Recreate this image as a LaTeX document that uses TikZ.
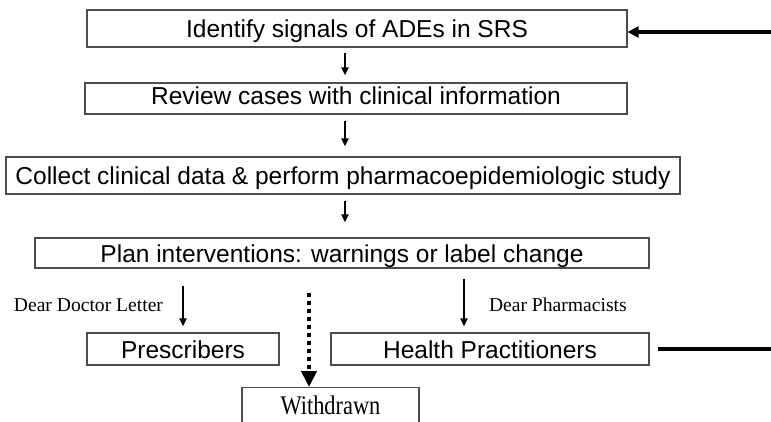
\documentclass[tikz,border=0pt]{standalone}
\usepackage{fontspec}
\setmainfont{Liberation Serif}
\setsansfont{Liberation Sans}
\usetikzlibrary{arrows.meta, positioning}

\begin{document}
\begin{tikzpicture}[x=1pt, y=-1pt,
    stepbox/.style={draw=black!70, line width=1.2pt, inner sep=0pt, text height=18.5pt, text depth=0pt,
      font=\sffamily\fontsize{24.5}{29}\selectfont},
    flow/.style={-{Triangle[length=8pt, width=7pt]}, line width=2pt},
    lbl/.style={inner sep=0pt, font=\rmfamily\fontsize{19.6}{23}\selectfont},
    loopline/.style={line width=3.5pt}]
    \useasboundingbox (0,0) rectangle (771,421);
    \clip (0,0) rectangle (771,421);

    \node[stepbox, minimum width=540pt, minimum height=37pt] (ident) at (357,28.5) {Identify signals of ADEs in SRS};
    \node[stepbox, minimum width=542pt, minimum height=31pt, text height=12pt] (review) at (356,98.5) {Review cases with clinical information};
    \node[stepbox, minimum width=674pt, minimum height=37pt] (collect) at (343,175.5) {Collect clinical data \& perform pharmacoepidemiologic study};
    \node[stepbox, minimum width=614pt, minimum height=30pt] (plan) at (342,253) {Plan interventions: warnings or label change};
    \node[stepbox, minimum width=192pt, minimum height=32pt] (presc) at (183,349) {Prescribers};
    \node[stepbox, minimum width=318pt, minimum height=32pt] (health) at (490,349) {Health Practitioners};
    \node[stepbox, anchor=north, minimum width=177pt, minimum height=36pt,
      font=\rmfamily\fontsize{22.4}{26}\selectfont] (wdrawn) at (330.5,387) {\scalebox{1}[1.2]{Withdrawn}};

    \coordinate (axis) at (345,0);
    \coordinate (healthin) at ([xshift=-26pt]health.north);
    \coordinate (wdrawnin) at ([xshift=-21.5pt]wdrawn.north);
    \coordinate (fbtop) at (790,32);
    \coordinate (fbbot) at (790,349);

    \draw[flow, shorten <=5pt, shorten >=7pt] (ident.south -| axis) -- (review.north -| axis);
    \draw[flow, shorten <=6pt, shorten >=10pt] (review.south -| axis) -- (collect.north -| axis);
    \draw[flow, shorten <=6pt, shorten >=15pt] (collect.south -| axis) -- (plan.north -| axis);

    \draw[flow, shorten <=17pt, shorten >=6pt] (plan.south -| presc) -- (presc.north)
      node[lbl, pos=0.57, left=19pt] {Dear Doctor Letter};
    \draw[flow, shorten <=10pt, shorten >=6pt] (plan.south -| healthin) -- (healthin)
      node[lbl, pos=0.57, right=24pt] {Dear Pharmacists};
    \draw[line width=4pt, dash pattern=on 4pt off 4pt, -{Triangle[length=16pt, width=15pt]}, shorten <=24pt]
      (plan.south -| wdrawnin) -- (wdrawnin);

    % feedback loop
    \draw[loopline, shorten <=8pt] (health.east) -- (fbbot);
    \draw[loopline, -{Triangle[length=11pt, width=11pt]}] (fbtop) -- (fbtop -| ident.east);
\end{tikzpicture}
\end{document}
